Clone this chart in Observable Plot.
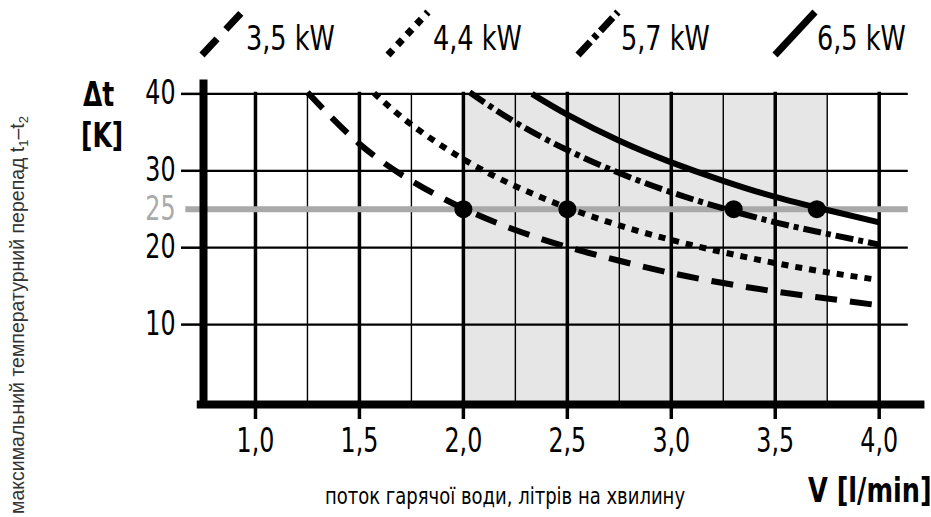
<!DOCTYPE html>
<html>
<head>
<meta charset="utf-8">
<script src="https://cdn.jsdelivr.net/npm/d3@7"></script>
<script src="https://cdn.jsdelivr.net/npm/@observablehq/plot@0.6"></script>
<style>
  html, body { margin: 0; padding: 0; background: #fff; }
  #wrap { position: relative; width: 931px; height: 517px; overflow: hidden; }
  .narrow { font-family: 'DejaVu Sans Condensed', 'Liberation Sans Narrow', 'Arial Narrow', sans-serif; color: #000; position: absolute; white-space: nowrap; line-height: 1; transform-origin: left top; }
  .lg { font-size: 33px; transform: scaleX(0.86); }
  .bold { font-weight: bold; }
  #ylab { position: absolute; left: 5px; top: 514px; transform-origin: left top; transform: rotate(-90deg); font-family: 'Liberation Sans', Arial, sans-serif; font-size: 19.5px; white-space: nowrap; line-height: 24px; color: #333; }
  #ylab sub { font-size: 13px; vertical-align: -4px; line-height: 0; }
  #legend { position: absolute; left: 0; top: 0; }
</style>
</head>
<body>
<div id="wrap">
  <div id="chart"></div>
  <svg id="legend" width="931" height="70"></svg>
  <div class="narrow lg" style="left:246px; top:22px;">3,5 kW</div>
  <div class="narrow lg" style="left:433px; top:22px;">4,4 kW</div>
  <div class="narrow lg" style="left:621px; top:22px;">5,7 kW</div>
  <div class="narrow lg" style="left:817px; top:22px;">6,5 kW</div>
  <div class="narrow bold" style="left:83px; top:78px; font-size:33px; transform:scaleX(0.84);">Δt</div>
  <div class="narrow bold" style="left:81px; top:119px; font-size:33px; transform:scaleX(0.84);">[K]</div>
  <div class="narrow bold" style="left:808px; top:474px; font-size:33px; transform:scaleX(0.86);">V [l/min]</div>
  <div class="narrow" style="left:325px; top:485px; font-size:23px; transform:scaleX(0.87);">поток гарячої води, літрів на хвилину</div>
  <div id="ylab">максимальний температурний перепад t<sub>1</sub>–t<sub>2</sub></div>
</div>
<script>
// ---- data ----
const seriesNames = ["3,5 kW", "4,4 kW", "5,7 kW", "6,5 kW"];
const flow35 = [1.25, 1.5, 1.75, 2.0, 2.25, 2.5, 2.75, 3.0, 3.25, 3.5, 3.75, 4.0];
const dt35   = [40.2, 33.5, 28.7, 25.1, 22.3, 20.1, 18.3, 16.7, 15.4, 14.3, 13.4, 12.5];
const flow44 = [1.57, 1.75, 2.0, 2.25, 2.5, 2.75, 3.0, 3.25, 3.5, 3.75, 4.0];
const dt44   = [40.1, 36.0, 31.5, 28.0, 25.2, 22.9, 21.0, 19.4, 18.0, 16.8, 15.8];
const flow57 = [2.03, 2.25, 2.5, 2.75, 3.0, 3.25, 3.5, 3.75, 4.0];
const dt57   = [40.2, 36.3, 32.7, 29.7, 27.2, 25.1, 23.3, 21.8, 20.4];
const flow65 = [2.33, 2.5, 2.75, 3.0, 3.25, 3.5, 3.75, 4.0];
const dt65   = [40.0, 37.3, 33.9, 31.1, 28.7, 26.6, 24.9, 23.3];
const markFlow = [2.0, 2.5, 3.3, 3.7];
const markDt   = [25, 25, 25, 25];
const xMajorTicks = [1.0, 1.5, 2.0, 2.5, 3.0, 3.5, 4.0];
const xMinorTicks = [1.25, 1.75, 2.25, 2.75, 3.25, 3.75];
const yTicks = [10, 20, 30, 40];
const refDt = 25;
const shadeFrom = 2.0, shadeTo = 3.75;

const toRows = (xs, ys) => xs.map((v, i) => ({v, t: ys[i]}));
const d35 = toRows(flow35, dt35), d44 = toRows(flow44, dt44), d57 = toRows(flow57, dt57), d65 = toRows(flow65, dt65);
const dots = toRows(markFlow, markDt);

const dashes = ["22,13", "7,7", "18,5,5,5", null];
const FONT = "'DejaVu Sans Condensed', 'Liberation Sans Narrow', 'Arial Narrow', sans-serif";
const fmt = d => d.toFixed(1).replace(".", ",");

const lineOpts = (i) => {
  const o = {x: "v", y: "t", stroke: "#000", strokeWidth: 6, curve: "natural", strokeLinecap: "butt"};
  if (dashes[i]) o.strokeDasharray = dashes[i];
  return o;
};

const chart = Plot.plot({
  width: 931,
  height: 517,
  marginLeft: 203,
  marginRight: 18,
  marginTop: 78,
  marginBottom: 116,
  x: {domain: [0.75, 4.165], axis: null},
  y: {domain: [0, 42], axis: null},
  style: {fontFamily: FONT, fontSize: "33px", color: "#000", background: "transparent", overflow: "visible"},
  marks: [
    Plot.rect([0], {x1: () => shadeFrom, x2: () => shadeTo, y1: () => 0, y2: () => 40, fill: "#e6e6e6"}),
    Plot.ruleX(xMinorTicks, {y1: 0, y2: 40, stroke: "#000", strokeWidth: 1.4}),
    Plot.ruleX(xMajorTicks, {y1: 0, y2: 40.2, stroke: "#000", strokeWidth: 3.5}),
    Plot.ruleY(yTicks, {x1: 0.75, x2: 4.14, stroke: "#000", strokeWidth: 2.3}),
    Plot.ruleY([refDt], {x1: 0.665, x2: 4.14, stroke: "#a9a9a9", strokeWidth: 6}),
    Plot.line(d35, lineOpts(0)),
    Plot.line(d44, lineOpts(1)),
    Plot.line(d57, lineOpts(2)),
    Plot.line(d65, lineOpts(3)),
    Plot.dot(dots, {x: "v", y: "t", r: 9, fill: "#000", stroke: null}),
    Plot.ruleX([0.75], {y1: -0.9, y2: 41.8, stroke: "#000", strokeWidth: 8}),
    Plot.ruleY([0], {x1: 0.72, x2: 4.22, dy: 3, stroke: "#000", strokeWidth: 8}),
    Plot.axisX({ticks: xMajorTicks, tickSize: 18, strokeWidth: 3.5, tickPadding: 9, tickFormat: fmt, fontSize: 33, label: null}),
    Plot.axisY({ticks: yTicks, tickSize: 22, strokeWidth: 2.5, tickPadding: 6, tickFormat: d => d, fontSize: 33, label: null}),
    Plot.axisY({ticks: [refDt], tickSize: 0, tickPadding: 28, tickFormat: d => d, fontSize: 33, color: "#aaaaaa", label: null})
  ]
});
document.getElementById("chart").appendChild(chart);

// condense the tick labels horizontally (narrow typeface look)
d3.select(chart).selectAll('g[aria-label$="tick label"] text').each(function () {
  const el = d3.select(this);
  let tr = el.attr("transform");
  if (!tr) {
    const x = +el.attr("x") || 0, y = +el.attr("y") || 0;
    el.attr("x", null).attr("y", null);
    tr = `translate(${x},${y})`;
  }
  el.attr("transform", tr + " scale(0.8,1)");
});

// ---- legend samples ----
const lg = d3.select("#legend");
const sampleX = [202, 388, 578, 775];
sampleX.forEach((x0, i) => {
  const ln = lg.append("line")
    .attr("x1", x0).attr("y1", 55).attr("x2", x0 + 40).attr("y2", 12)
    .attr("stroke", "#000").attr("stroke-width", 7).attr("stroke-linecap", "butt");
  if (dashes[i]) ln.attr("stroke-dasharray", dashes[i]);
});
</script>
</body>
</html>
